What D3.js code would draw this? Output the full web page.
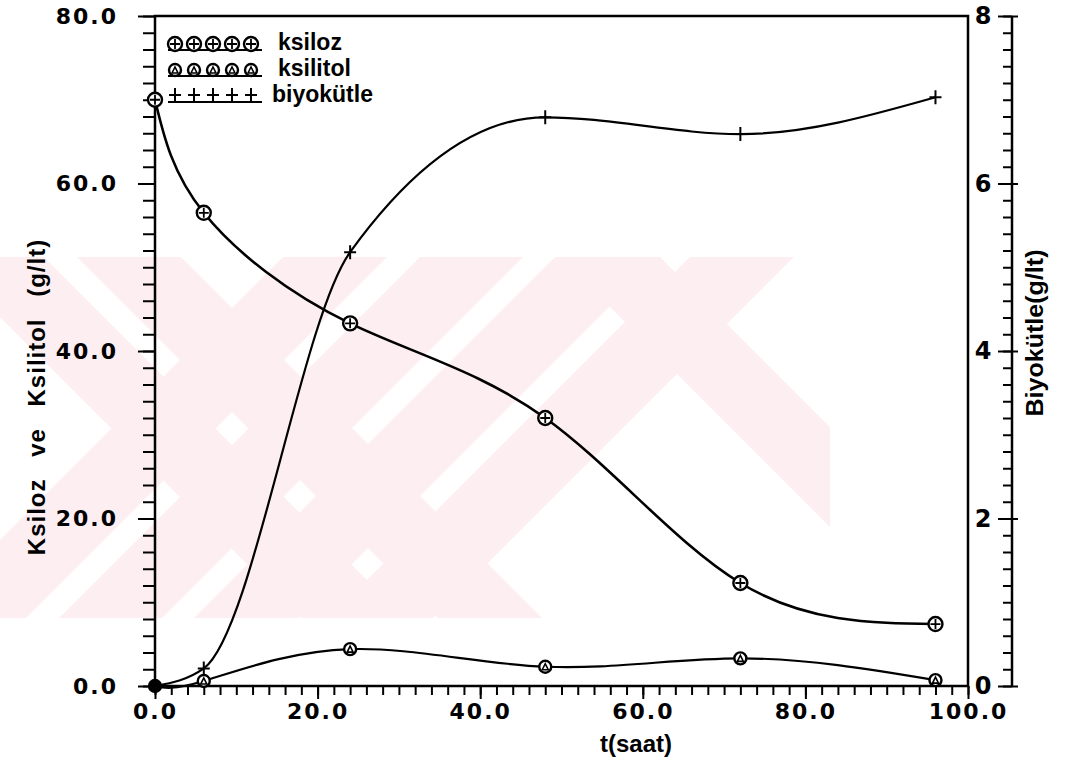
<!DOCTYPE html>
<html>
<head>
<meta charset="utf-8">
<script src="https://cdn.jsdelivr.net/npm/d3@7"></script>
<style>
  body { margin: 0; background: #fff; }
  svg { display: block; }
  .tick-lbl { font-family: "DejaVu Sans", sans-serif; font-weight: bold; font-size: 22px; letter-spacing: 2px; fill: #000; }
  .ax-title { font-family: "Liberation Sans", Arial, sans-serif; font-weight: bold; font-size: 24px; fill: #000; }
  .leg { font-family: "Liberation Sans", Arial, sans-serif; font-weight: bold; font-size: 23px; fill: #000; }
</style>
</head>
<body>
<div id="chart"></div>
<script>
// data
const tHours = [0, 6, 24, 48, 72, 96]
const ksiloz = [70.0, 56.5, 43.3, 32.0, 12.3, 7.4]
const ksilitol = [0, 0.6, 4.4, 2.3, 3.3, 0.7]
const biyokutle = [0, 0.21, 5.18, 6.79, 6.59, 7.03]

const xTicks = [0, 20, 40, 60, 80, 100]
const yLeftTicks = [0, 20, 40, 60, 80]
const yRightTicks = [0, 2, 4, 6, 8]
const legendNames = ["ksiloz", "ksilitol", "biyokütle"]

const W = 1080, H = 766
const margin = ({top: 16, right: 112, bottom: 80, left: 155})

const svg = d3.select("#chart").append("svg")
    .attr("width", W)
    .attr("height", H)

const x = d3.scaleLinear().domain([0, 100]).range([margin.left, W - margin.right])
const yL = d3.scaleLinear().domain([0, 80]).range([H - margin.bottom, margin.top])
const yR = d3.scaleLinear().domain([0, 8]).range([H - margin.bottom, margin.top])
const rightAxisX = 1012

// faint thesis-centre watermark behind everything
const wm = svg.append("g").attr("class", "watermark")
svg.append("clipPath").attr("id", "wmclip")
    .append("rect").attr("x", 0).attr("y", 257).attr("width", 830).attr("height", 361)
const wmg = wm.append("g").attr("clip-path", "url(#wmclip)").attr("fill", "#fdeef1")
// "/" bands (left edge at y=257, horizontal width)
;[[283, 104], [420, 103], [555, 104], [690, 104]].forEach(([x0, w]) => {
    wmg.append("polygon")
        .attr("points", `${x0},257 ${x0 + w},257 ${x0 + w - 361},618 ${x0 - 361},618`)
})
// "\" bands on the left and right ends
;[[-60, 104], [77, 104], [560, 100]].forEach(([x0, w]) => {
    wmg.append("polygon")
        .attr("points", `${x0},257 ${x0 + w},257 ${x0 + w + 361},618 ${x0 + 361},618`)
})

const fmt1 = d3.format(".1f")

// bottom axis
const xAxis = d3.axisBottom(x).tickValues(xTicks).tickFormat(fmt1).tickSize(13).tickPadding(4)
const xMinor = d3.axisBottom(x).tickValues(d3.range(0, 101, 2)).tickFormat("").tickSize(9)
svg.append("g").attr("transform", `translate(0,${yL(0)})`).call(xMinor)
svg.append("g").attr("class", "x-axis").attr("transform", `translate(0,${yL(0)})`).call(xAxis)

// left axis
const yAxis = d3.axisLeft(yL).tickValues(yLeftTicks).tickFormat(fmt1).tickSize(17).tickPadding(20)
const yMinor = d3.axisLeft(yL).tickValues(d3.range(0, 81, 2)).tickFormat("").tickSize(12)
svg.append("g").attr("transform", `translate(${x(0)},0)`).call(yMinor)
svg.append("g").attr("class", "y-axis").attr("transform", `translate(${x(0)},0)`).call(yAxis)

// right axis (biomass), ticks pointing inward, labels between frame and axis
const rAxis = d3.axisLeft(yR).tickValues(yRightTicks).tickFormat(d3.format("d")).tickSize(14).tickPadding(20)
const rMinor = d3.axisLeft(yR).tickValues(d3.range(0, 8.01, 0.2)).tickFormat("").tickSize(9)
svg.append("g").attr("transform", `translate(${rightAxisX},0)`).call(rMinor)
const rg = svg.append("g").attr("class", "r-axis").attr("transform", `translate(${rightAxisX},0)`).call(rAxis)
rg.selectAll(".tick line").attr("x2", 6).attr("x1", -14)
rg.selectAll(".tick text").attr("text-anchor", "middle").attr("x", -29)

svg.selectAll(".domain").remove()
svg.selectAll(".tick line").attr("stroke", "#000").attr("stroke-width", 2)
svg.selectAll(".tick text").attr("class", "tick-lbl").attr("font-size", null).attr("font-family", null)
svg.selectAll(".r-axis .tick text").style("letter-spacing", "0px").style("font-size", "24px")

// frame and axis lines
const frame = svg.append("g").attr("stroke", "#000").attr("fill", "none")
frame.append("path").attr("stroke-width", 2.5)
    .attr("d", `M${x(0)},${yL(0)}V${yL(80)}H${x(100)}V${yL(0)}Z`)
frame.append("line").attr("stroke-width", 2.5)
    .attr("x1", rightAxisX).attr("x2", rightAxisX).attr("y1", yR(8)).attr("y2", yR(0))

// axis titles
svg.append("text").attr("class", "ax-title")
    .attr("x", 636).attr("y", 752).attr("text-anchor", "middle")
    .text("t(saat)")
svg.append("text").attr("class", "ax-title")
    .attr("transform", `translate(45,397) rotate(-90)`)
    .attr("text-anchor", "middle")
    .style("word-spacing", "14px").style("letter-spacing", "1px")
    .text("Ksiloz ve Ksilitol (g/lt)")
svg.append("text").attr("class", "ax-title")
    .attr("transform", `translate(1043,333) rotate(-90)`)
    .attr("text-anchor", "middle")
    .attr("textLength", 167).attr("lengthAdjust", "spacingAndGlyphs")
    .text("Biyokütle(g/lt)")

// curves
const rowsKsiloz = tHours.map((t, i) => ({t, v: ksiloz[i]}))
const rowsKsilitol = tHours.map((t, i) => ({t, v: ksilitol[i]}))
const rowsBio = tHours.map((t, i) => ({t, v: biyokutle[i]}))

const lineL = d3.line().x(d => x(d.t)).y(d => yL(d.v)).curve(d3.curveNatural)
const lineR = d3.line().x(d => x(d.t)).y(d => yR(d.v)).curve(d3.curveMonotoneX)

const curves = svg.append("g").attr("fill", "none").attr("stroke", "#000").attr("stroke-linejoin", "round")
curves.append("path").datum(rowsKsiloz).attr("d", lineL).attr("stroke-width", 2.6)
curves.append("path").datum(rowsKsilitol).attr("d", lineL).attr("stroke-width", 2.2)
curves.append("path").datum(rowsBio).attr("d", lineR).attr("stroke-width", 2.2)

// marker drawers
function circlePlus(g, cx, cy) {
    g.append("circle").attr("cx", cx).attr("cy", cy).attr("r", 7)
        .attr("fill", "#fff").attr("stroke", "#000").attr("stroke-width", 2.4)
    g.append("path").attr("stroke", "#000").attr("stroke-width", 1.8)
        .attr("d", `M${cx - 5},${cy}H${cx + 5}M${cx},${cy - 5}V${cy + 5}`)
}
function circleTri(g, cx, cy) {
    g.append("circle").attr("cx", cx).attr("cy", cy).attr("r", 6)
        .attr("fill", "#fff").attr("stroke", "#000").attr("stroke-width", 2.4)
    g.append("path").attr("fill", "none").attr("stroke", "#000").attr("stroke-width", 1.6)
        .attr("d", `M${cx - 3},${cy + 3}L${cx},${cy - 3}L${cx + 3},${cy + 3}Z`)
}
function plus(g, cx, cy) {
    g.append("path").attr("stroke", "#000").attr("stroke-width", 2)
        .attr("d", `M${cx - 6},${cy}H${cx + 6}M${cx},${cy - 7}V${cy + 7}`)
}

const marks = svg.append("g")
rowsBio.forEach(d => plus(marks, x(d.t), yR(d.v)))
rowsKsilitol.forEach(d => circleTri(marks, x(d.t), yL(d.v)))
rowsKsiloz.forEach(d => circlePlus(marks, x(d.t), yL(d.v)))
// origin in the scan is a solid blob where the three series overlap
marks.append("circle").attr("cx", x(tHours[0])).attr("cy", yL(ksilitol[0])).attr("r", 6).attr("fill", "#000")

// legend
const legendDraw = [circlePlus, circleTri, plus]
const leg = svg.append("g")
legendNames.forEach((name, i) => {
    const base = 50 + i * 26
    leg.append("line").attr("x1", 168).attr("x2", 262)
        .attr("y1", base).attr("y2", base)
        .attr("stroke", "#000").attr("stroke-width", 2.2)
    d3.range(5).forEach(k => legendDraw[i](leg, 175 + k * 19, base - (i === 2 ? 7 : 6)))
    leg.append("text").attr("class", "leg").attr("x", i === 2 ? 272 : 278).attr("y", base).text(name)
})
</script>
</body>
</html>
